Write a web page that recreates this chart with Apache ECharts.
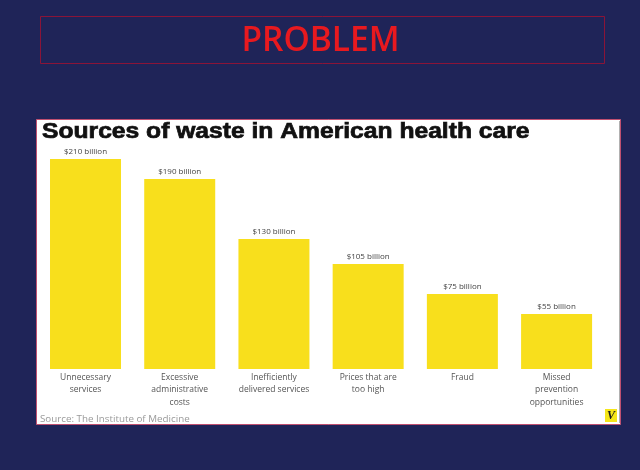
<!DOCTYPE html>
<html>
<head>
<meta charset="utf-8">
<script src="https://cdn.jsdelivr.net/npm/echarts@6/dist/echarts.min.js"></script>
<style>
  html, body { margin: 0; padding: 0; background: #1f2458; }
  #chart { width: 640px; height: 470px; }
</style>
</head>
<body>
<div id="chart"></div>
<script>
// Categories and waste amounts (billions of dollars)
const categories = [
  'Unnecessary\nservices',
  'Excessive\nadministrative\ncosts',
  'Inefficiently\ndelivered services',
  'Prices that are\ntoo high',
  'Fraud',
  'Missed\nprevention\nopportunities'
];
const wasteBillions = [210, 190, 130, 105, 75, 55];
const valueLabels = ['$210 billion', '$190 billion', '$130 billion', '$105 billion', '$75 billion', '$55 billion'];

const chart = echarts.init(document.getElementById('chart'), null, { renderer: 'canvas' });

chart.setOption({
  backgroundColor: '#1f2458',
  animation: false,
  graphic: [
    // slide heading box
    {
      type: 'rect', z: 0,
      shape: { x: 40.5, y: 16.5, width: 564, height: 47 },
      style: { fill: 'none', stroke: '#8a1438', lineWidth: 1 }
    },
    {
      type: 'text', z: 1,
      x: 320.5, y: 41,
      style: {
        text: 'PROBLEM', fill: '#e8191f',
        font: '600 33.5px "Open Sans", sans-serif',
        align: 'center', verticalAlign: 'middle'
      }
    },
    // white chart panel
    {
      type: 'rect', z: 0,
      shape: { x: 36.5, y: 119.5, width: 584, height: 305 },
      style: { fill: '#ffffff', stroke: '#c05070', lineWidth: 1 }
    },
    {
      type: 'line', z: 1,
      shape: { x1: 619.5, y1: 121, x2: 619.5, y2: 423 },
      style: { stroke: '#b0b0b0', lineWidth: 1 }
    },
    // chart headline
    {
      type: 'text', z: 2,
      x: 42, y: 132, scaleX: 1.12,
      style: {
        text: 'Sources of waste in American health care', fill: '#111111',
        font: 'bold 22px "Liberation Sans", Arial, sans-serif',
        stroke: '#111111', lineWidth: 0.7,
        align: 'left', verticalAlign: 'middle'
      }
    },
    // source note
    {
      type: 'text', z: 2,
      x: 40, y: 419,
      style: {
        text: 'Source: The Institute of Medicine', fill: '#9a9a9a',
        font: '9.8px "Open Sans", sans-serif',
        align: 'left', verticalAlign: 'middle'
      }
    },
    // logo mark
    {
      type: 'rect', z: 2,
      shape: { x: 605, y: 409, width: 12, height: 13 },
      style: { fill: '#f5e619' }
    },
    {
      type: 'text', z: 3,
      x: 611, y: 416,
      style: {
        text: 'V', fill: '#1a1a1a',
        font: 'italic bold 12px "Liberation Serif", serif',
        align: 'center', verticalAlign: 'middle'
      }
    }
  ],
  grid: { left: 38.4, right: 36.3, top: 159, bottom: 101, containLabel: false },
  xAxis: {
    type: 'category',
    data: categories,
    axisLine: { show: false },
    axisTick: { show: false },
    axisLabel: {
      interval: 0,
      margin: 2,
      color: '#555555',
      fontFamily: '"Open Sans", sans-serif',
      fontSize: 8.5,
      lineHeight: 12.5
    }
  },
  yAxis: {
    type: 'value',
    min: 0, max: 210,
    show: false,
    splitLine: { show: false }
  },
  series: [{
    type: 'bar',
    data: wasteBillions,
    barWidth: 71,
    itemStyle: { color: '#f8df1c' },
    label: {
      show: true,
      position: 'top',
      distance: 3,
      color: '#444444',
      fontFamily: '"Open Sans", sans-serif',
      fontSize: 8,
      formatter: p => valueLabels[p.dataIndex]
    }
  }]
});
</script>
</body>
</html>
